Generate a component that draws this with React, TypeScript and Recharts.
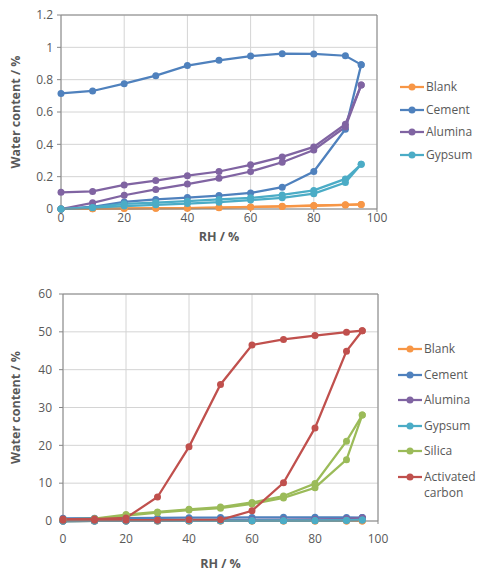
import React from 'react';
import { LineChart, Line, XAxis, YAxis, CartesianGrid, ReferenceLine, Legend } from 'recharts';

// relative humidity steps, % (adsorption goes up, desorption comes back down)
const RH = [0, 10, 20, 30, 40, 50, 60, 70, 80, 90, 95];

// water content / % at each RH step
const blankAds = [0, 0.002, 0.003, 0.004, 0.005, 0.008, 0.012, 0.016, 0.02, 0.025, 0.028];
const blankDes = [0, 0.002, 0.004, 0.005, 0.006, 0.009, 0.013, 0.017, 0.022, 0.026, 0.028];
const cementAds = [0, 0.014, 0.044, 0.059, 0.071, 0.083, 0.099, 0.135, 0.232, 0.493, 0.893];
const cementDes = [0.715, 0.73, 0.775, 0.825, 0.887, 0.92, 0.946, 0.961, 0.959, 0.948, 0.893];
const aluminaAds = [0, 0.038, 0.085, 0.121, 0.154, 0.19, 0.232, 0.289, 0.365, 0.507, 0.767];
const aluminaDes = [0.103, 0.109, 0.149, 0.176, 0.206, 0.232, 0.273, 0.322, 0.384, 0.524, 0.767];
const gypsumAds = [0, 0.008, 0.018, 0.026, 0.034, 0.042, 0.055, 0.069, 0.095, 0.164, 0.277];
const gypsumDes = [0, 0.01, 0.032, 0.04, 0.048, 0.059, 0.069, 0.087, 0.115, 0.186, 0.277];
const silicaAds = [0.35, 0.5, 1.4, 2.2, 2.9, 3.4, 4.5, 6.1, 8.8, 16.2, 28];
const silicaDes = [0.4, 0.6, 1.7, 2.4, 3.1, 3.7, 4.9, 6.6, 9.9, 21.1, 28];
const carbonAds = [0.2, 0.2, 0.2, 0.2, 0.3, 0.3, 2.7, 10.1, 24.6, 44.9, 50.3];
const carbonDes = [0.5, 0.5, 0.8, 6.35, 19.6, 36.1, 46.5, 48.0, 49.0, 49.9, 50.3];

const xTicks = [0, 20, 40, 60, 80, 100];
const yTicksTop = [0, 0.2, 0.4, 0.6, 0.8, 1, 1.2];
const yTicksBottom = [0, 10, 20, 30, 40, 50, 60];

type Series = { name: string; color: string; ads: number[]; des: number[] };

const BASE: Series[] = [
  { name: 'Blank', color: '#F79646', ads: blankAds, des: blankDes },
  { name: 'Cement', color: '#4F81BD', ads: cementAds, des: cementDes },
  { name: 'Alumina', color: '#8064A2', ads: aluminaAds, des: aluminaDes },
  { name: 'Gypsum', color: '#4BACC6', ads: gypsumAds, des: gypsumDes },
];
const ALL: Series[] = [
  ...BASE,
  { name: 'Silica', color: '#9BBB59', ads: silicaAds, des: silicaDes },
  { name: 'Activated carbon', color: '#C0504D', ads: carbonAds, des: carbonDes },
];

const FONT = '"Open Sans", sans-serif';
const TXT = '#595959';
const AXIS = '#868686';
const GRID = '#d4d4d4';

const pts = (vals: number[]) => RH.map((rh, i) => ({ rh, w: vals[i] }));

function Marker({ color }: { color: string }) {
  return (
    <svg width={24} height={8} style={{ flex: 'none' }}>
      <line x1={0} y1={4} x2={24} y2={4} stroke={color} strokeWidth={2.25} />
      <circle cx={12} cy={4} r={3.5} fill={color} />
    </svg>
  );
}

function legendContent(series: Series[], rowH: number) {
  return () => (
    <div style={{ fontFamily: FONT, fontSize: 12, color: TXT, lineHeight: '16px' }}>
      {series.map(s => (
        <div key={s.name} style={{ display: 'flex', alignItems: 'flex-start', minHeight: rowH, paddingTop: (rowH - 16) / 2, boxSizing: 'border-box' }}>
          <div style={{ height: 16, display: 'flex', alignItems: 'center' }}><Marker color={s.color} /></div>
          <span style={{ marginLeft: 2 }}>{s.name}</span>
        </div>
      ))}
    </div>
  );
}

function yTitle(props: any) {
  const vb = props.viewBox;
  const cx = 15;
  const cy = vb.y + vb.height / 2;
  return (
    <text x={cx} y={cy} transform={`rotate(-90 ${cx} ${cy})`} textAnchor="middle" dominantBaseline="central"
      fill={TXT} fontFamily={FONT} fontSize={12.5} fontWeight={700}>Water content / %</text>
  );
}

function lines(series: Series[]) {
  return series.flatMap(s => [s.ads, s.des].map((vals, k) => (
    <Line key={s.name + k} data={pts(vals)} dataKey="w" type="linear" stroke={s.color} strokeWidth={2.25}
      dot={{ r: 3.5, fill: s.color, stroke: s.color, strokeWidth: 0 }} activeDot={false}
      legendType="none" isAnimationActive={false} />
  )));
}

const tickStyle = { fill: TXT, fontSize: 12, fontFamily: FONT };
const xTitle = { value: 'RH / %', position: 'insideBottom' as const, offset: 0, fill: TXT, fontSize: 12.5, fontWeight: 700, fontFamily: FONT };

export default function App() {
  return (
    <div style={{ position: 'absolute', left: 0, top: 0, width: 488, height: 579, background: '#fff' }}>
      <div style={{ position: 'absolute', left: 0, top: 0 }}>
        <LineChart width={488} height={262} margin={{ top: 15, right: 111, left: 0, bottom: 21 }}>
          <CartesianGrid stroke={GRID} />
          <XAxis type="number" dataKey="rh" domain={[0, 100]} ticks={xTicks} height={32}
            tick={tickStyle} tickSize={3} tickMargin={1} stroke={AXIS} label={xTitle} />
          <YAxis type="number" domain={[0, 1.2]} ticks={yTicksTop} width={61}
            tick={tickStyle} tickSize={4} tickMargin={4} stroke={AXIS} label={{ content: yTitle }} />
          <ReferenceLine y={1.2} stroke={AXIS} />
          <ReferenceLine x={100} stroke={AXIS} />
          {lines(BASE)}
          <Legend layout="vertical" align="center" verticalAlign="middle"
            wrapperStyle={{ left: 400, top: 75.6, width: 86 }} content={legendContent(BASE, 22.7)} />
        </LineChart>
      </div>
      <div style={{ position: 'absolute', left: 0, top: 280 }}>
        <LineChart width={488} height={299} margin={{ top: 14, right: 110, left: 0, bottom: 11 }}>
          <CartesianGrid stroke={GRID} />
          <XAxis type="number" dataKey="rh" domain={[0, 100]} ticks={xTicks} height={47}
            tick={tickStyle} tickSize={3} tickMargin={10} stroke={AXIS} label={xTitle} />
          <YAxis type="number" domain={[0, 60]} ticks={yTicksBottom} width={63}
            tick={tickStyle} tickSize={4} tickMargin={7} stroke={AXIS} label={{ content: yTitle }} />
          <ReferenceLine y={60} stroke={AXIS} />
          <ReferenceLine x={100} stroke={AXIS} />
          {lines(ALL)}
          <Legend layout="vertical" align="center" verticalAlign="middle"
            wrapperStyle={{ left: 398, top: 56.2, width: 88 }} content={legendContent(ALL, 25.6)} />
        </LineChart>
      </div>
    </div>
  );
}
